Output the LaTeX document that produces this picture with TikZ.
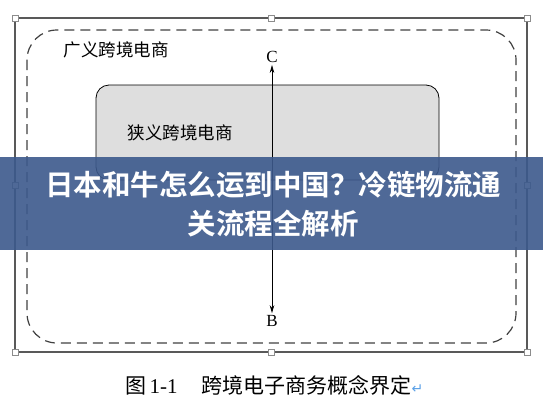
\documentclass[tikz,border=0pt]{standalone}
\usepackage{fontspec}
\setmainfont{Liberation Serif}
\newfontfamily\cjkfont{Noto Sans CJK SC}
\newfontfamily\bannerfont{Noto Sans CJK SC Bold}
\newfontfamily\symfont{DejaVu Sans}
\usepackage{tikz}
\usetikzlibrary{arrows.meta}
\usetikzlibrary{positioning}

\definecolor{bannerblue}{RGB}{60,89,140}
\definecolor{retblue}{RGB}{90,160,230}

\begin{document}
\begin{tikzpicture}[x=1pt,y=-1pt,
        handle/.style={draw=black!45,fill=white,line width=0.6pt,minimum size=6pt,inner sep=0pt},
        letter/.style={font=\fontsize{17}{20}\selectfont,inner sep=2pt}]
        \useasboundingbox (0,0) rectangle (543,408);

        % Cornice
        \begin{scope}
            \coordinate (tl) at (15,18);
            \coordinate (tm) at (271,18);
            \coordinate (tr) at (527,18);
            \coordinate (ml) at (15,185);
            \coordinate (mr) at (527,185);
            \coordinate (bl) at (15,352);
            \coordinate (bm) at (271,352);
            \coordinate (br) at (527,352);

            \draw[black!65,line width=1.3pt] (tl)--(tr)--(br)--(bl)--cycle;

            \foreach \p in {tl,tm,tr,ml,mr,bl,bm,br}{
                \node[handle] (h\p) at (\p) {};
            }
        \end{scope}

        % Insiemi
        \begin{scope}
            \draw[black!75,line width=1.2pt,dash pattern=on 10pt off 6pt,rounded corners=30pt]
                (27,30) rectangle (516,343);
            \node[anchor=west,font=\cjkfont\fontsize{17.5}{20}\selectfont] (largo) at (60,50) {广义跨境电商};

            \draw[black,fill=black!13,line width=0.8pt,rounded corners=13pt]
                (96,85) rectangle (439,180);
            \node[anchor=west,font=\cjkfont\fontsize{17.5}{20}\selectfont] (stretto) at (124,133) {狭义跨境电商};

            \node[letter] (C) at (272,57) {C};
            \node[letter] (B) at (272,321) {B};
            \draw[{Stealth[length=8pt,width=4.5pt]}-{Stealth[length=8pt,width=4.5pt]},line width=0.8pt] (C) -- (B);
        \end{scope}

        % Fascia
        \fill[bannerblue,opacity=0.9] (0,157) rectangle (543,250);
        \node[align=center,text=white,font=\bannerfont\fontsize{28.5}{39}\selectfont] (titolo) at (273,204.5)
            {日本和牛怎么运到中国？冷链物流通\\关流程全解析};

        % Didascalia
        \node[anchor=west,inner sep=0pt,font=\fontsize{21}{24}\selectfont] (didascalia) at (125,385)
            {{\cjkfont 图}\,1-1\hspace{24pt}{\cjkfont 跨境电子商务概念界定}{\symfont\fontsize{14}{16}\selectfont\color{retblue}↵}};
    \end{tikzpicture}
\end{document}
